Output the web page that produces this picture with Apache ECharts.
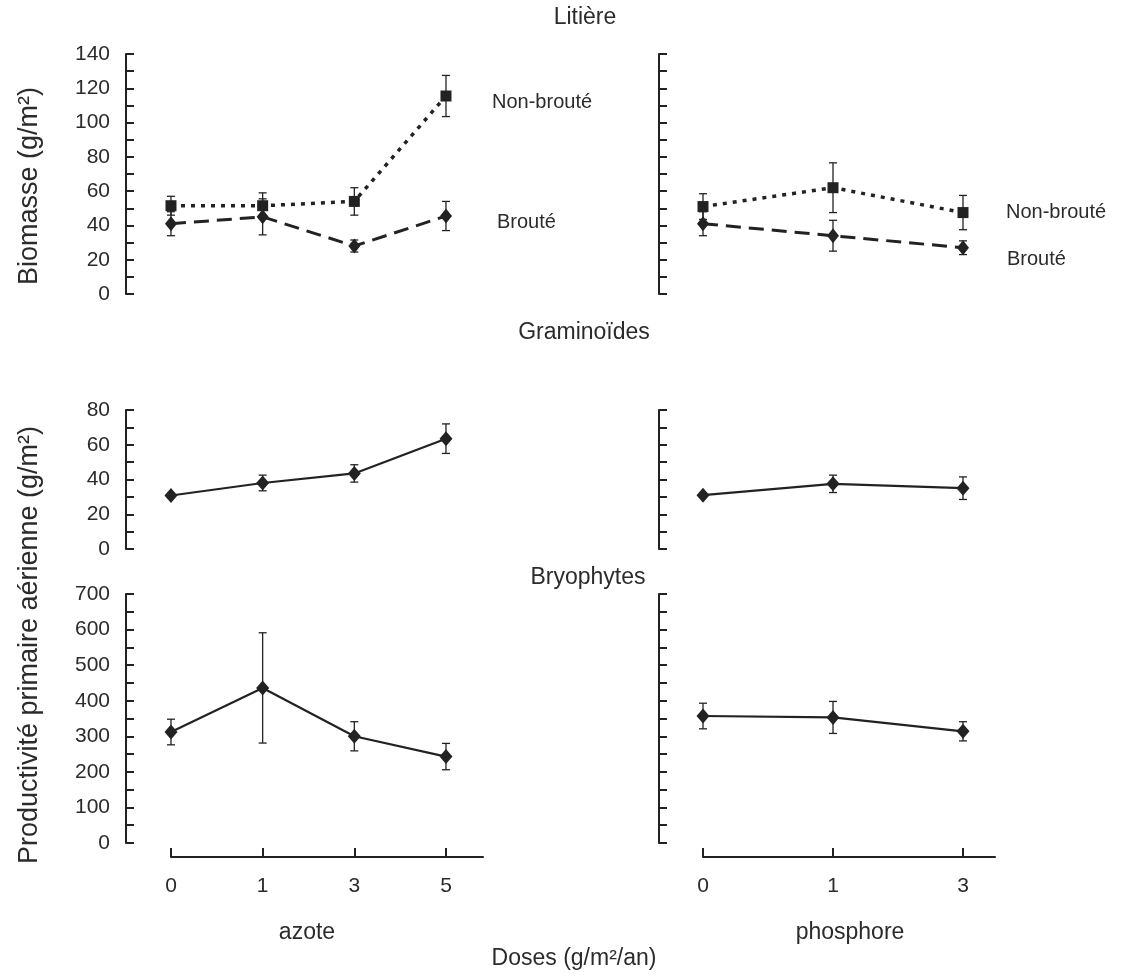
<!DOCTYPE html>
<html>
<head>
<meta charset="utf-8">
<script src="https://cdn.jsdelivr.net/npm/echarts@6/dist/echarts.min.js"></script>
<style>html,body{margin:0;padding:0;background:#fff}#c{width:1121px;height:977px}</style>
</head>
<body>
<div id="c"></div>
<script>
// ---- data ----
const dosesAzote = ['0', '1', '3', '5'];
const dosesPhos = ['0', '1', '3'];

// Litière (biomasse g/m2)
const litAzoteNonBroute = [51.5, 51.5, 54, 115.5];
const litAzoteNonBrouteErr = [5.5, 7.5, 8, 12];
const litAzoteBroute = [41, 45, 28, 45.5];
const litAzoteBrouteErr = [7, 10.5, 3.5, 8.5];
const litPhosNonBroute = [51, 62, 47.5];
const litPhosNonBrouteErr = [7.5, 14.5, 10];
const litPhosBroute = [41, 34, 27];
const litPhosBrouteErr = [7, 9, 4];

// Graminoïdes (productivité g/m2)
const graAzote = [30.8, 38, 43.5, 63.5];
const graAzoteErr = [1.2, 4.5, 5, 8.5];
const graPhos = [31, 37.5, 35];
const graPhosErr = [1, 5, 6.5];

// Bryophytes (productivité g/m2)
const bryAzote = [312, 436, 300, 243];
const bryAzoteErr = [36, 155, 41, 37];
const bryPhos = [357, 353, 314];
const bryPhosErr = [36, 45, 27];

// axis ticks
const litTicks = {min: 0, max: 140, interval: 20};
const graTicks = {min: 0, max: 80, interval: 20};
const bryTicks = {min: 0, max: 700, interval: 100};

// ---- layout / styles ----
const INK = '#222';
const TXT = '#2b2b2b';
const NARROW = "'Liberation Sans Narrow','Arial Narrow','Liberation Sans',Arial,sans-serif";
const SANS = "'Liberation Sans',Arial,sans-serif";

const rows = [
  {top: 54, height: 240, ticks: litTicks},
  {top: 410, height: 139, ticks: graTicks},
  {top: 594, height: 249, ticks: bryTicks}
];
const cols = [
  {left: 126, width: 357, xmin: -0.4907, xmax: 3.4038, labels: true},
  {left: 659, width: 336, xmin: -0.3385, xmax: 2.2462, labels: false}
];

const grids = [], xAxes = [], yAxes = [];
rows.forEach((r, ri) => {
  cols.forEach((c, ci) => {
    grids.push({left: c.left, top: r.top, width: c.width, height: r.height, outerBoundsMode: 'none', containLabel: false});
    const gi = grids.length - 1;
    xAxes.push({type: 'value', gridIndex: gi, min: c.xmin, max: c.xmax, show: false});
    yAxes.push({
      type: 'value', gridIndex: gi, min: r.ticks.min, max: r.ticks.max, interval: r.ticks.interval,
      axisLine: {show: true, onZero: false, lineStyle: {color: INK, width: 2}},
      axisTick: {show: true, inside: true, length: 8, lineStyle: {color: INK, width: 2}},
      minorTick: {show: true, splitNumber: 2, length: 8, lineStyle: {color: INK, width: 2}},
      splitLine: {show: false},
      axisLabel: {show: c.labels, color: TXT, fontSize: 21, fontFamily: NARROW, margin: 16}
    });
  });
});

// detached dose axes at bottom
const doseAxisDefs = [
  {left: 171, width: 312, max: 3.4038, labels: dosesAzote},
  {left: 703, width: 292, max: 2.2462, labels: dosesPhos}
];
doseAxisDefs.forEach(d => {
  grids.push({left: d.left, top: 850, width: d.width, height: 7, outerBoundsMode: 'none', containLabel: false});
  const gi = grids.length - 1;
  const vals = d.labels.map((_, i) => i);
  xAxes.push({
    type: 'value', gridIndex: gi, min: 0, max: d.max,
    axisLine: {show: true, onZero: false, lineStyle: {color: INK, width: 2}},
    axisTick: {show: true, inside: true, length: 9, customValues: vals, lineStyle: {color: INK, width: 2}},
    axisLabel: {show: true, customValues: vals, formatter: v => d.labels[Math.round(v)] ?? '', color: TXT, fontSize: 21, fontFamily: NARROW, margin: 19},
    splitLine: {show: false}
  });
  yAxes.push({type: 'value', gridIndex: gi, show: false, min: 0, max: 1});
});

function idxData(vals) { return vals.map((v, i) => [i, v]); }
function errData(vals, errs) { return vals.map((v, i) => [i, v - errs[i], v + errs[i]]); }

function errSeries(gi, vals, errs) {
  return {
    type: 'custom', xAxisIndex: gi, yAxisIndex: gi, z: 1, silent: true,
    data: errData(vals, errs),
    renderItem: (params, api) => {
      const lo = api.coord([api.value(0), api.value(1)]);
      const hi = api.coord([api.value(0), api.value(2)]);
      const w = 4;
      const st = {stroke: INK, lineWidth: 1.3};
      return {type: 'group', children: [
        {type: 'line', shape: {x1: lo[0], y1: lo[1], x2: hi[0], y2: hi[1]}, style: st},
        {type: 'line', shape: {x1: lo[0] - w, y1: lo[1], x2: lo[0] + w, y2: lo[1]}, style: st},
        {type: 'line', shape: {x1: hi[0] - w, y1: hi[1], x2: hi[0] + w, y2: hi[1]}, style: st}
      ]};
    }
  };
}

function lineSeries(gi, name, vals, symbol, size, lineType, width) {
  return {
    type: 'line', name: name, xAxisIndex: gi, yAxisIndex: gi, z: 3,
    data: idxData(vals), symbol: symbol, symbolSize: size, showSymbol: true,
    itemStyle: {color: INK, borderWidth: 0}, lineStyle: {color: INK, width: width, type: lineType},
    emphasis: {disabled: true}, animation: false
  };
}

const DOTTED = [4, 6];
const DASHED = [15, 8];
const series = [
  errSeries(0, litAzoteNonBroute, litAzoteNonBrouteErr),
  errSeries(0, litAzoteBroute, litAzoteBrouteErr),
  lineSeries(0, 'Non-brouté', litAzoteNonBroute, 'rect', 11, DOTTED, 3.5),
  lineSeries(0, 'Brouté', litAzoteBroute, 'diamond', [12, 15], DASHED, 3),
  errSeries(1, litPhosNonBroute, litPhosNonBrouteErr),
  errSeries(1, litPhosBroute, litPhosBrouteErr),
  lineSeries(1, 'Non-brouté', litPhosNonBroute, 'rect', 11, DOTTED, 3.5),
  lineSeries(1, 'Brouté', litPhosBroute, 'diamond', [12, 15], DASHED, 3),
  errSeries(2, graAzote, graAzoteErr),
  lineSeries(2, 'Graminoïdes azote', graAzote, 'diamond', [13, 15], 'solid', 2.2),
  errSeries(3, graPhos, graPhosErr),
  lineSeries(3, 'Graminoïdes phosphore', graPhos, 'diamond', [13, 15], 'solid', 2.2),
  errSeries(4, bryAzote, bryAzoteErr),
  lineSeries(4, 'Bryophytes azote', bryAzote, 'diamond', [13, 15], 'solid', 2.2),
  errSeries(5, bryPhos, bryPhosErr),
  lineSeries(5, 'Bryophytes phosphore', bryPhos, 'diamond', [13, 15], 'solid', 2.2)
];

function txt(x, y, text, size, align, rot) {
  return {type: 'text', x: x, y: y, rotation: rot || 0, silent: true,
    style: {text: text, fontSize: size, fontFamily: SANS, fill: TXT, align: align || 'center', verticalAlign: 'middle'}};
}

const graphics = [
  txt(585, 18, 'Litière', 23),
  txt(584, 333, 'Graminoïdes', 23),
  txt(588, 578, 'Bryophytes', 23),
  txt(492, 102, 'Non-brouté', 20, 'left'),
  txt(497, 222, 'Brouté', 20, 'left'),
  txt(1006, 212, 'Non-brouté', 20, 'left'),
  txt(1007, 259, 'Brouté', 20, 'left'),
  txt(30, 186, 'Biomasse (g/m²)', 27, 'center', Math.PI / 2),
  txt(30, 645, 'Productivité primaire aérienne (g/m²)', 27, 'center', Math.PI / 2),
  txt(307, 933, 'azote', 23),
  txt(850, 933, 'phosphore', 23),
  txt(574, 959, 'Doses (g/m²/an)', 23)
];

const chart = echarts.init(document.getElementById('c'), null, {renderer: 'canvas'});
chart.setOption({
  backgroundColor: '#fff',
  animation: false,
  grid: grids,
  xAxis: xAxes,
  yAxis: yAxes,
  series: series,
  graphic: graphics
});
</script>
</body>
</html>
